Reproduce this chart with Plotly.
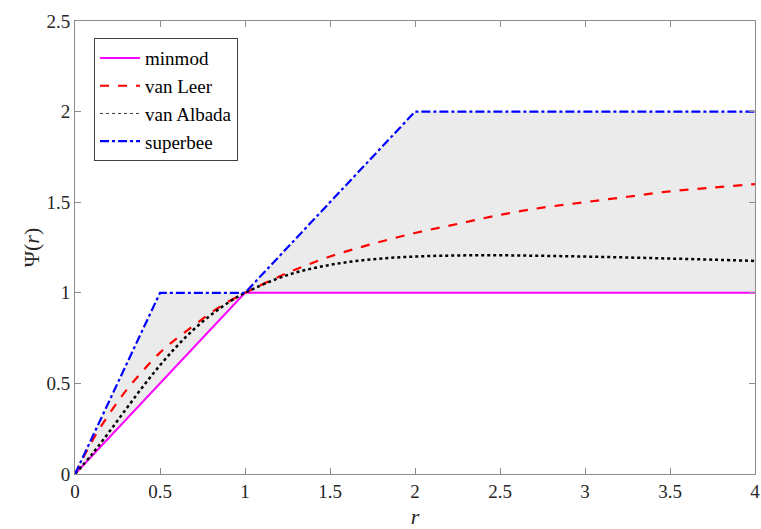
import plotly.graph_objects as go

# minmod
r_minmod = [0, 1, 4]
psi_minmod = [0, 1, 1]
# superbee
r_superbee = [0, 0.5, 1, 2, 4]
psi_superbee = [0, 1, 1, 2, 2]
# smooth limiters
r_smooth = [0, 0.1, 0.2, 0.3, 0.4, 0.5, 0.6, 0.7, 0.8, 0.9, 1.0,
            1.25, 1.5, 1.75, 2.0, 2.25, 2.5, 2.75, 3.0, 3.25, 3.5, 3.75, 4.0]
psi_vanleer = [0, 0.18, 0.33, 0.46, 0.57, 0.67, 0.75, 0.82, 0.89, 0.95, 1.0,
               1.11, 1.2, 1.27, 1.33, 1.38, 1.43, 1.47, 1.5, 1.53, 1.56, 1.58, 1.6]
psi_vanalbada = [0, 0.109, 0.231, 0.358, 0.483, 0.6, 0.706, 0.799, 0.878, 0.945, 1.0,
                 1.098, 1.154, 1.185, 1.2, 1.206, 1.207, 1.204, 1.2, 1.195, 1.189, 1.183, 1.176]

xticks = [0, 0.5, 1, 1.5, 2, 2.5, 3, 3.5, 4]
xticklabels = ["0", "0.5", "1", "1.5", "2", "2.5", "3", "3.5", "4"]
yticks = [0, 0.5, 1, 1.5, 2, 2.5]
yticklabels = ["0", "0.5", "1", "1.5", "2", "2.5"]

font = "Liberation Serif"

fig = go.Figure()
# TVD region shading
fig.add_trace(go.Scatter(
    x=r_superbee + r_minmod[::-1], y=psi_superbee + psi_minmod[::-1],
    fill="toself", fillcolor="#ebebeb", line=dict(width=0),
    mode="lines", showlegend=False, hoverinfo="skip"))
fig.add_trace(go.Scatter(x=r_minmod, y=psi_minmod, mode="lines", name="minmod",
                         line=dict(color="#ff00ff", width=2)))
fig.add_trace(go.Scatter(x=r_smooth, y=psi_vanleer, mode="lines", name="van Leer",
                         line=dict(color="#ff0000", width=2.2, dash="dash", shape="spline")))
fig.add_trace(go.Scatter(x=r_smooth, y=psi_vanalbada, mode="lines", name="van Albada",
                         showlegend=False,
                         line=dict(color="#000000", width=2.5, dash="dot", shape="spline")))
# legend entry for van Albada (thin dotted sample as in the reference)
fig.add_trace(go.Scatter(x=[None], y=[None], mode="lines", name="van Albada",
                         line=dict(color="#000000", width=0.8, dash="dot")))
fig.add_trace(go.Scatter(x=r_superbee, y=psi_superbee, mode="lines", name="superbee",
                         line=dict(color="#0000ff", width=2.2, dash="dashdot")))

axis_common = dict(showgrid=False, zeroline=False, showline=True, linecolor="#8c8c8c",
                   linewidth=1, mirror="ticks", ticks="inside", ticklen=6, automargin=False,
                   tickcolor="#8c8c8c", tickfont=dict(family=font, size=19, color="#262626"))

fig.update_layout(
    width=761, height=529,
    margin=dict(l=75, r=6, t=21, b=55),
    paper_bgcolor="white", plot_bgcolor="white",
    font=dict(family=font, color="#262626"),
    xaxis=dict(range=[0, 4], tickvals=xticks, ticktext=xticklabels,
               title=dict(text="<i>r</i>", font=dict(family=font, size=22), standoff=12),
               **axis_common),
    yaxis=dict(range=[0, 2.5], tickvals=yticks, ticktext=yticklabels,
               title=dict(text="Ψ(<i>r</i>)", font=dict(family=font, size=22), standoff=0),
               **axis_common),
    legend=dict(x=0.028, y=0.962, xanchor="left", yanchor="top",
                bgcolor="white", bordercolor="#404040", borderwidth=1,
                font=dict(family=font, size=19, color="#000000"),
                tracegroupgap=0, itemwidth=40),
)

fig.write_html("out.html")
